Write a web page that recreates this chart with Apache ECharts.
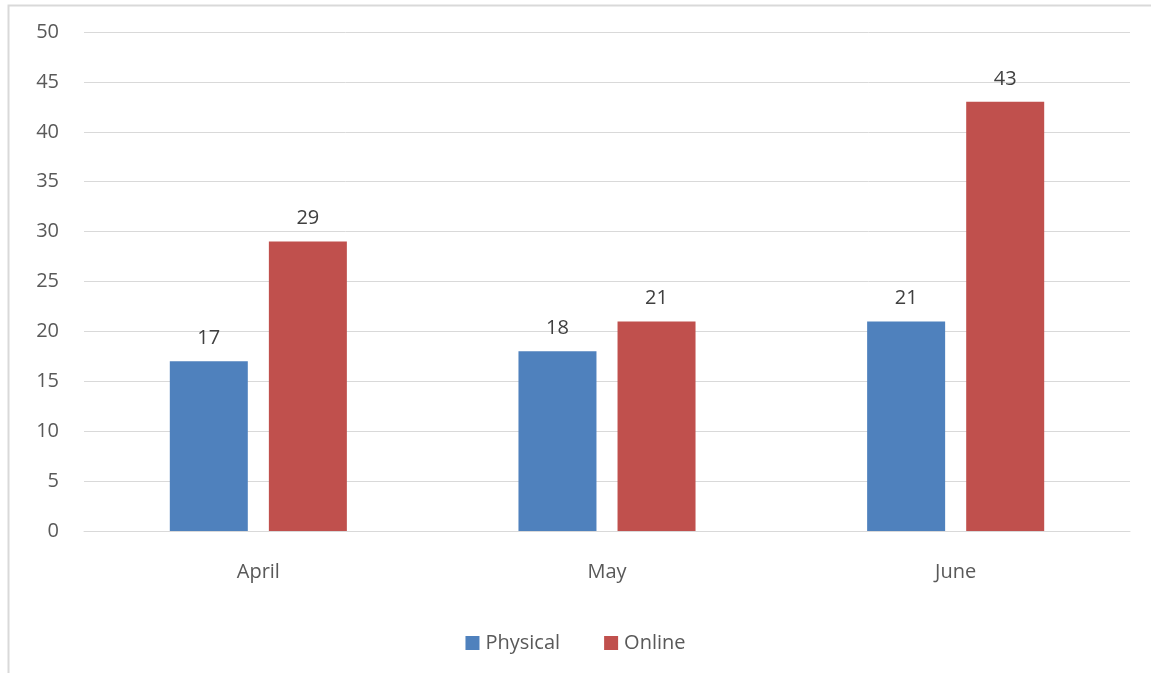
<!DOCTYPE html>
<html><head><meta charset="utf-8">
<script src="https://cdn.jsdelivr.net/npm/echarts@6/dist/echarts.min.js"></script>
<style>html,body{margin:0;padding:0;background:#fff}#c{width:1151px;height:673px}</style>
</head><body><div id="c"></div>
<script>
const categories = ["April", "May", "June"];
const physical = [17, 18, 21];
const online = [29, 21, 43];
const yTicks = [0, 5, 10, 15, 20, 25, 30, 35, 40, 45, 50];

const font = "'Open Sans', 'Noto Sans', sans-serif";
const chart = echarts.init(document.getElementById('c'), null, {renderer: 'canvas'});
chart.setOption({
  animation: false,
  backgroundColor: '#fff',
  graphic: [{
    type: 'rect', left: 6, top: 3, shape: {x: 0, y: 0, width: 1160, height: 690},
    style: {fill: 'none', stroke: '#D9D9D9', lineWidth: 2}, silent: true
  }],
  grid: {left: 84, right: 21, top: 32, bottom: 142, containLabel: false},
  legend: {
    data: ['Physical', 'Online'], top: 628, left: 'center',
    icon: 'rect', itemWidth: 14, itemHeight: 14, itemGap: 44,
    textStyle: {color: '#595959', fontSize: 20, fontFamily: font, padding: [0, 0, 0, 1]}
  },
  xAxis: {
    type: 'category', data: categories,
    axisLine: {show: true, lineStyle: {color: '#D9D9D9', width: 1}},
    axisTick: {show: false},
    axisLabel: {color: '#595959', fontSize: 20, fontFamily: font, margin: 31}
  },
  yAxis: {
    type: 'value', min: yTicks[0], max: yTicks[yTicks.length - 1], interval: 5,
    axisLine: {show: false}, axisTick: {show: false},
    splitLine: {lineStyle: {color: '#D9D9D9', width: 1}},
    axisLabel: {color: '#595959', fontSize: 20, fontFamily: font, margin: 25}
  },
  series: [
    {name: 'Physical', type: 'bar', data: physical, barWidth: 78, barGap: '27%',
     itemStyle: {color: '#4F81BD'},
     label: {show: true, position: 'top', distance: 13, color: '#404040', fontSize: 20, fontFamily: font}},
    {name: 'Online', type: 'bar', data: online, barWidth: 78,
     itemStyle: {color: '#C0504D'},
     label: {show: true, position: 'top', distance: 13, color: '#404040', fontSize: 20, fontFamily: font}}
  ]
});
</script></body></html>
